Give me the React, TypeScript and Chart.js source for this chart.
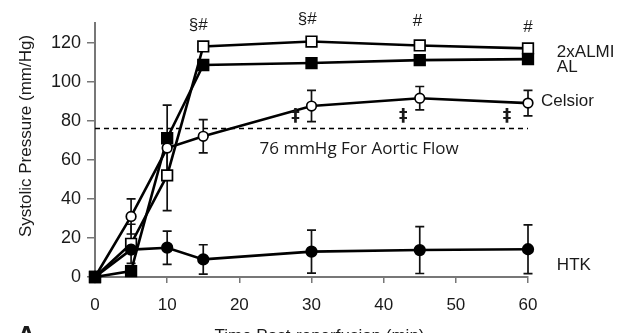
import React, { useEffect, useRef } from "react";
import { Chart, registerables } from "chart.js";
Chart.register(...registerables);

// ---- data ----
const times = [0, 5, 10, 15, 30, 45, 60];
const almi2x = [0, 17, 52, 118, 120.5, 118.5, 117];
const almi2xErr = [0, 10, 18, 0, 0, 0, 0];
const al = [0, 3, 71, 108.5, 109.5, 111, 111.5];
const alErr = [0, 0, 17, 0, 0, 0, 0];
const celsior = [0, 31, 66, 72, 87.5, 91.5, 89];
const celsiorErr = [0, 9, 0, 8.5, 8, 6, 6.5];
const htk = [0, 14, 15, 9, 13, 13.8, 14.2];
const htkErr = [0, 0, 8.5, 7.5, 11, 12, 12.5];

const thresholdX = [0, 60];
const thresholdY = [76, 76];
const thresholdText = "76 mmHg For Aortic Flow";
const thresholdTextPos = [22.8, 65.5];

const yTicks = [0, 20, 40, 60, 80, 100, 120];
const xTicks = [0, 10, 20, 30, 40, 50, 60];

const markText = ["§#", "§#", "#", "#"];
const markX = [14.3, 29.4, 44.7, 60];
const markY = [129, 132, 131, 128];
const daggerX = [27.8, 42.7, 57.1];
const daggerY = [82, 82, 82];

const seriesLabels = ["2xALMI", "AL", "Celsior", "HTK"];
const seriesLabelX = [64, 64, 61.8, 64];
const seriesLabelY = [114.9, 107.2, 90, 6.2];

const yTitle = "Systolic Pressure (mm/Hg)";
const xTitle = "Time Post-reperfusion (min)";
const panelLetter = "A";

const FONT = '"Liberation Sans", Arial, sans-serif';
const INK = "#1a1a1a";

function pts(ys: number[]) {
  return times.map((t, i) => ({ x: t, y: ys[i] }));
}

const errorBarPlugin = {
  id: "errorBars",
  beforeDatasetsDraw(chart: any) {
    const ctx = chart.ctx;
    const xs = chart.scales.x;
    const ys = chart.scales.y;
    ctx.save();
    ctx.strokeStyle = "#111";
    ctx.lineWidth = 1.7;
    chart.data.datasets.forEach((ds: any) => {
      if (!ds.errors) return;
      ds.data.forEach((p: any, i: number) => {
        const e = ds.errors[i];
        if (!e) return;
        const px = xs.getPixelForValue(p.x);
        const top = ys.getPixelForValue(p.y + e);
        const bot = ys.getPixelForValue(p.y - e);
        ctx.beginPath();
        ctx.moveTo(px, top);
        ctx.lineTo(px, bot);
        ctx.moveTo(px - 4.5, top);
        ctx.lineTo(px + 4.5, top);
        ctx.moveTo(px - 4.5, bot);
        ctx.lineTo(px + 4.5, bot);
        ctx.stroke();
      });
    });
    ctx.restore();
  },
};

const textPlugin = {
  id: "texts",
  afterDraw(chart: any) {
    const ctx = chart.ctx;
    const xs = chart.scales.x;
    const ys = chart.scales.y;
    const ca = chart.chartArea;
    ctx.save();
    ctx.fillStyle = INK;
    ctx.textBaseline = "middle";

    ctx.font = `17px ${FONT}`;
    ctx.textAlign = "center";
    markText.forEach((t, i) => {
      ctx.fillText(t, xs.getPixelForValue(markX[i]), ys.getPixelForValue(markY[i]));
    });
    ctx.font = `bold 17px "DejaVu Sans", sans-serif`;
    daggerX.forEach((x, i) => {
      ctx.fillText("‡", xs.getPixelForValue(x), ys.getPixelForValue(daggerY[i]));
    });

    ctx.textAlign = "left";
    ctx.font = `17px ${FONT}`;
    seriesLabels.forEach((t, i) => {
      ctx.fillText(t, xs.getPixelForValue(seriesLabelX[i]), ys.getPixelForValue(seriesLabelY[i]));
    });

    ctx.font = `17px "Open Sans", sans-serif`;
    ctx.fillText(
      thresholdText,
      xs.getPixelForValue(thresholdTextPos[0]),
      ys.getPixelForValue(thresholdTextPos[1])
    );

    // axis titles
    ctx.font = `17px ${FONT}`;
    ctx.save();
    ctx.translate(26, 136);
    ctx.rotate(-Math.PI / 2);
    ctx.textAlign = "center";
    ctx.fillText(yTitle, 0, 0);
    ctx.restore();

    ctx.textAlign = "center";
    ctx.textBaseline = "top";
    ctx.font = `17px ${FONT}`;
    ctx.fillText(xTitle, (ca.left + ca.right) / 2 + 8, 328);

    ctx.textAlign = "left";
    ctx.font = `bold 26px ${FONT}`;
    ctx.fillText(panelLetter, 17, 324);
    ctx.restore();
  },
};

export default function App() {
  const ref = useRef<HTMLCanvasElement | null>(null);
  useEffect(() => {
    if (!ref.current) return;
    const common = {
      borderColor: "#000",
      borderWidth: 2.6,
      pointBorderWidth: 1.7,
      pointBorderColor: "#000",
      showLine: true,
      tension: 0,
      clip: false,
    };
    const chart = new Chart(ref.current, {
      type: "scatter",
      data: {
        datasets: [
          {
            ...common,
            label: "threshold",
            data: thresholdX.map((x, i) => ({ x, y: thresholdY[i] })),
            borderWidth: 1.5,
            borderDash: [5, 4],
            pointRadius: 0,
          } as any,
          {
            ...common,
            label: "HTK",
            data: pts(htk),
            errors: htkErr,
            pointStyle: "circle",
            pointRadius: 5.3,
            pointBackgroundColor: "#000",
          } as any,
          {
            ...common,
            label: "Celsior",
            data: pts(celsior),
            errors: celsiorErr,
            pointStyle: "circle",
            pointRadius: 4.8,
            pointBackgroundColor: "#fff",
          } as any,
          {
            ...common,
            label: "AL",
            data: pts(al),
            errors: alErr,
            pointStyle: "rect",
            pointRadius: 7.5,
            pointBackgroundColor: "#000",
          } as any,
          {
            ...common,
            label: "2xALMI",
            data: pts(almi2x),
            errors: almi2xErr,
            pointStyle: "rect",
            pointRadius: 7.5,
            pointBackgroundColor: "#fff",
          } as any,
        ],
      },
      options: {
        animation: false,
        responsive: true,
        maintainAspectRatio: false,
        layout: { padding: { left: 0, right: 91, top: 23, bottom: 0 } },
        plugins: { legend: { display: false }, tooltip: { enabled: false } },
        scales: {
          x: {
            type: "linear",
            min: 0,
            max: 60,
            afterBuildTicks: (s: any) => {
              s.ticks = xTicks.map((v) => ({ value: v }));
            },
            afterFit: (s: any) => {
              s.height = 56;
            },
            ticks: { font: { size: 17, family: FONT }, color: INK, padding: 12 },
            grid: { drawOnChartArea: false, drawTicks: true, tickLength: 6, color: "#777", lineWidth: 1.5 },
            border: { color: "#777", width: 2 },
          },
          y: {
            type: "linear",
            min: 0,
            max: 130,
            afterBuildTicks: (s: any) => {
              s.ticks = yTicks.map((v) => ({ value: v }));
            },
            afterFit: (s: any) => {
              s.width = 95;
            },
            ticks: { font: { size: 18, family: FONT }, color: INK, padding: 6 },
            grid: { drawOnChartArea: false, drawTicks: true, tickLength: 8, color: "#777", lineWidth: 1.5 },
            border: { color: "#777", width: 2 },
          },
        },
      } as any,
      plugins: [errorBarPlugin, textPlugin],
    });
    return () => chart.destroy();
  }, []);
  return (
    <div style={{ position: "fixed", left: 0, top: 0, width: 619, height: 333, background: "#fff" }}>
      <canvas ref={ref} />
    </div>
  );
}
